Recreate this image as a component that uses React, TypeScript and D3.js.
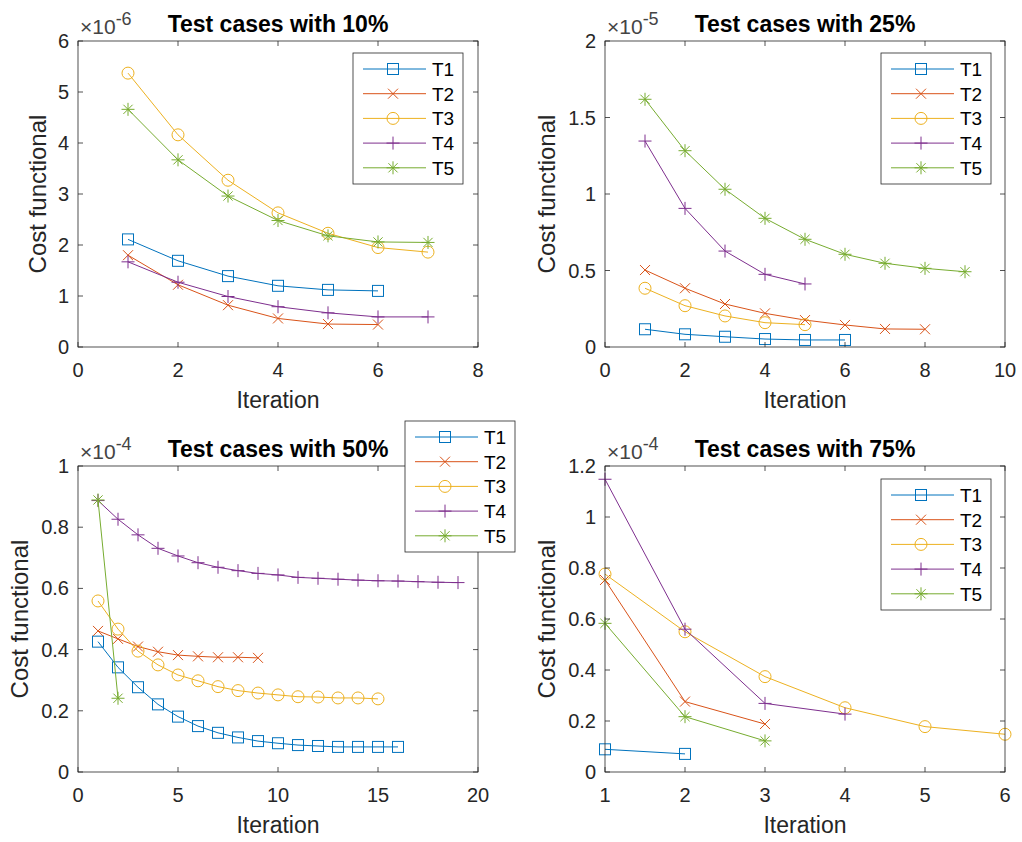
import React from "react";
import * as d3 from "d3";

// iteration values start at 1 for every series
const seriesNames = ["T1", "T2", "T3", "T4", "T5"];

// Test cases with 10% (x 1e-6)
const case10: number[][] = [
  [2.11, 1.69, 1.39, 1.2, 1.12, 1.1],
  [1.8, 1.22, 0.82, 0.56, 0.45, 0.44],
  [5.37, 4.16, 3.27, 2.63, 2.23, 1.95, 1.86],
  [1.67, 1.27, 0.99, 0.79, 0.67, 0.59, 0.59],
  [4.66, 3.67, 2.96, 2.48, 2.18, 2.06, 2.05],
];

// Test cases with 25% (x 1e-5)
const case25: number[][] = [
  [0.116, 0.083, 0.067, 0.052, 0.046, 0.046],
  [0.503, 0.384, 0.281, 0.22, 0.176, 0.144, 0.118, 0.116],
  [0.384, 0.27, 0.203, 0.159, 0.146],
  [1.346, 0.906, 0.627, 0.475, 0.412],
  [1.619, 1.283, 1.031, 0.841, 0.704, 0.606, 0.547, 0.514, 0.492],
];

// Test cases with 50% (x 1e-4)
const case50: number[][] = [
  [0.426, 0.342, 0.277, 0.221, 0.181, 0.15, 0.128, 0.113, 0.101, 0.094, 0.088, 0.085, 0.082, 0.082, 0.082, 0.082],
  [0.461, 0.435, 0.41, 0.393, 0.382, 0.378, 0.375, 0.375, 0.373],
  [0.559, 0.467, 0.395, 0.35, 0.317, 0.298, 0.279, 0.266, 0.258, 0.252, 0.246, 0.245, 0.242, 0.242, 0.239],
  [0.887, 0.826, 0.775, 0.731, 0.706, 0.684, 0.669, 0.658, 0.649, 0.644, 0.636, 0.633, 0.63, 0.627, 0.625, 0.624, 0.622, 0.62, 0.619],
  [0.889, 0.241],
];

// Test cases with 75% (x 1e-4)
const case75: number[][] = [
  [0.089, 0.071],
  [0.753, 0.276, 0.188],
  [0.776, 0.55, 0.374, 0.252, 0.178, 0.148],
  [1.148, 0.56, 0.269, 0.227],
  [0.583, 0.217, 0.122],
];

const xTicks10 = [0, 2, 4, 6, 8];
const yTicks10 = [0, 1, 2, 3, 4, 5, 6];
const xTicks25 = [0, 2, 4, 6, 8, 10];
const yTicks25 = [0, 0.5, 1, 1.5, 2];
const xTicks50 = [0, 5, 10, 15, 20];
const yTicks50 = [0, 0.2, 0.4, 0.6, 0.8, 1];
const xTicks75 = [1, 2, 3, 4, 5, 6];
const yTicks75 = [0, 0.2, 0.4, 0.6, 0.8, 1, 1.2];

const colors = ["#0072BD", "#D95319", "#EDB120", "#7E2F8E", "#77AC30"];
const axisColor = "#262626";
const font = "'Liberation Sans', Arial, Helvetica, sans-serif";

function Marker({ type, x, y, color }) {
  const t = `translate(${x},${y})`;
  const common = { fill: "none", stroke: color, strokeWidth: 1, transform: t };
  if (type === 0) return <rect x={-5.5} y={-5.5} width={11} height={11} {...common} />;
  if (type === 1) return <path d="M-5,-5L5,5M-5,5L5,-5" {...common} />;
  if (type === 2) return <circle r={6} {...common} />;
  if (type === 3) return <path d="M-6.5,0H6.5M0,-6.5V6.5" {...common} />;
  return <path d="M-6.5,0H6.5M0,-6.5V6.5M-4.6,-4.6L4.6,4.6M-4.6,4.6L4.6,-4.6" {...common} />;
}

function Panel({ left, top, data, xTicks, yTicks, exponent, title, legendX, legendY, yLabelX }) {
  const w = 400;
  const h = 306;
  const x = d3.scaleLinear().domain(d3.extent(xTicks)).range([left, left + w]);
  const y = d3.scaleLinear().domain(d3.extent(yTicks)).range([top + h, top]);
  const line = d3
    .line<number>()
    .x((_, i) => x(i + 1))
    .y((d) => y(d));
  const tick = 5;

  return (
    <g fontFamily={font}>
      {data.map((vals, s) => (
        <g key={s}>
          <path d={line(vals)} fill="none" stroke={colors[s]} strokeWidth={1} />
          {vals.map((v, i) => (
            <Marker key={i} type={s} x={x(i + 1)} y={y(v)} color={colors[s]} />
          ))}
        </g>
      ))}
      <rect x={left} y={top} width={w} height={h} fill="none" stroke={axisColor} strokeWidth={0.8} />
      {xTicks.map((t) => (
        <g key={t}>
          <line x1={x(t)} x2={x(t)} y1={top + h} y2={top + h - tick} stroke={axisColor} strokeWidth={0.8} />
          <line x1={x(t)} x2={x(t)} y1={top} y2={top + tick} stroke={axisColor} strokeWidth={0.8} />
          <text x={x(t)} y={top + h + 30} textAnchor="middle" fontSize={20} fill={axisColor}>
            {t}
          </text>
        </g>
      ))}
      {yTicks.map((t) => (
        <g key={t}>
          <line x1={left} x2={left + tick} y1={y(t)} y2={y(t)} stroke={axisColor} strokeWidth={0.8} />
          <line x1={left + w} x2={left + w - tick} y1={y(t)} y2={y(t)} stroke={axisColor} strokeWidth={0.8} />
          <text x={left - 9} y={y(t) + 7} textAnchor="end" fontSize={20} fill={axisColor}>
            {t}
          </text>
        </g>
      ))}
      <text x={left + w / 2} y={top + h + 61} textAnchor="middle" fontSize={23} fill={axisColor}>
        Iteration
      </text>
      <text
        transform={`translate(${yLabelX},${top + h / 2}) rotate(-90)`}
        textAnchor="middle"
        fontSize={24}
        fill={axisColor}
      >
        Cost functional
      </text>
      <text x={left + 2} y={top - 7} fontSize={21} fill="#444">
        ×10
        <tspan dy={-9} fontSize={18}>
          {exponent}
        </tspan>
      </text>
      <text x={left + w / 2} y={top - 9} textAnchor="middle" fontSize={23} fontWeight="bold" fill="#000">
        {title}
      </text>
      <g transform={`translate(${legendX},${legendY})`}>
        <rect width={110} height={131} fill="#fff" stroke={axisColor} strokeWidth={0.8} />
        {seriesNames.map((name, s) => {
          const ly = 16 + s * 24.7;
          return (
            <g key={name}>
              <line x1={10} x2={73} y1={ly} y2={ly} stroke={colors[s]} strokeWidth={1} />
              <Marker type={s} x={40} y={ly} color={colors[s]} />
              <text x={79} y={ly + 7} fontSize={19} fill="#000">
                {name}
              </text>
            </g>
          );
        })}
      </g>
    </g>
  );
}

export default function App() {
  return (
    <svg width={1022} height={842} style={{ position: "absolute", left: 0, top: 0, background: "#fff" }}>
      <Panel left={78} top={41} data={case10} xTicks={xTicks10} yTicks={yTicks10} exponent="-6"
        title="Test cases with 10%" legendX={353} legendY={53} yLabelX={46} />
      <Panel left={605} top={41} data={case25} xTicks={xTicks25} yTicks={yTicks25} exponent="-5"
        title="Test cases with 25%" legendX={881} legendY={53} yLabelX={555} />
      <Panel left={78} top={466} data={case50} xTicks={xTicks50} yTicks={yTicks50} exponent="-4"
        title="Test cases with 50%" legendX={405} legendY={421} yLabelX={28} />
      <Panel left={605} top={466} data={case75} xTicks={xTicks75} yTicks={yTicks75} exponent="-4"
        title="Test cases with 75%" legendX={881} legendY={479} yLabelX={555} />
    </svg>
  );
}
